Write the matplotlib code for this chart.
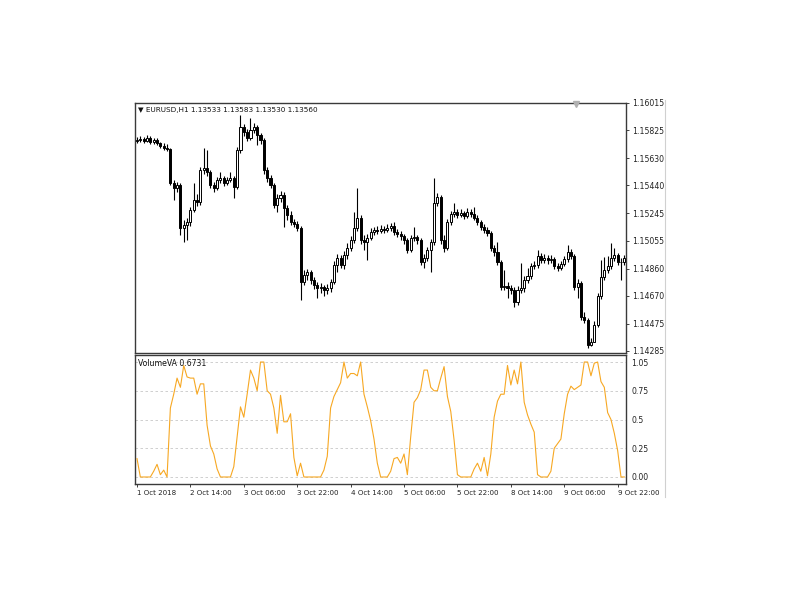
import numpy as np
import matplotlib
matplotlib.use("Agg")
import matplotlib.pyplot as plt
from matplotlib.lines import Line2D

# hourly EURUSD bars, 1 Oct 22:00 .. 10 Oct 00:00
opens = [1.15750, 1.15757, 1.15764, 1.15750, 1.15771, 1.15743, 1.15757, 1.15736, 1.15715, 1.15701,
         1.15694, 1.15457, 1.15422, 1.15443, 1.15143, 1.15164, 1.15185, 1.15269, 1.15338, 1.15324,
         1.15548, 1.15561, 1.15534, 1.15443, 1.15422, 1.15478, 1.15492, 1.15457, 1.15478, 1.15492,
         1.15429, 1.15687, 1.15848, 1.15813, 1.15771, 1.15827, 1.15848, 1.15792, 1.15757, 1.15548,
         1.15492, 1.15443, 1.15303, 1.15352, 1.15373, 1.15282, 1.15234, 1.15185, 1.15171, 1.15143,
         1.14766, 1.14815, 1.14836, 1.14780, 1.14745, 1.14724, 1.14731, 1.14711, 1.14724, 1.14766,
         1.14885, 1.14934, 1.14885, 1.14955, 1.15003, 1.15059, 1.15143, 1.15213, 1.15059, 1.15045,
         1.15073, 1.15115, 1.15129, 1.15122, 1.15136, 1.15129, 1.15143, 1.15157, 1.15115, 1.15101,
         1.15087, 1.15059, 1.14990, 1.15073, 1.15080, 1.15059, 1.14906, 1.14934, 1.14990, 1.15045,
         1.15317, 1.15359, 1.15059, 1.15003, 1.15185, 1.15241, 1.15255, 1.15234, 1.15248, 1.15227,
         1.15255, 1.15241, 1.15213, 1.15185, 1.15150, 1.15129, 1.15108, 1.15003, 1.14976, 1.14906,
         1.14731, 1.14738, 1.14724, 1.14711, 1.14627, 1.14711, 1.14724, 1.14780, 1.14808, 1.14878,
         1.14885, 1.14948, 1.14920, 1.14934, 1.14920, 1.14927, 1.14878, 1.14864, 1.14892, 1.14927,
         1.14976, 1.14948, 1.14731, 1.14759, 1.14522, 1.14501, 1.14327, 1.14348, 1.14466, 1.14669,
         1.14801, 1.14850, 1.14878, 1.14934, 1.14955, 1.14906, 1.14906]
closes = [1.15757, 1.15764, 1.15750, 1.15771, 1.15743, 1.15757, 1.15736, 1.15715, 1.15701, 1.15694,
          1.15457, 1.15422, 1.15443, 1.15143, 1.15164, 1.15185, 1.15269, 1.15338, 1.15324, 1.15548,
          1.15561, 1.15534, 1.15443, 1.15422, 1.15478, 1.15492, 1.15457, 1.15478, 1.15492, 1.15429,
          1.15687, 1.15848, 1.15813, 1.15771, 1.15827, 1.15848, 1.15792, 1.15757, 1.15548, 1.15492,
          1.15443, 1.15303, 1.15352, 1.15373, 1.15282, 1.15234, 1.15185, 1.15171, 1.15143, 1.14766,
          1.14815, 1.14836, 1.14780, 1.14745, 1.14724, 1.14731, 1.14711, 1.14724, 1.14766, 1.14885,
          1.14934, 1.14885, 1.14955, 1.15003, 1.15059, 1.15143, 1.15213, 1.15059, 1.15045, 1.15073,
          1.15115, 1.15129, 1.15122, 1.15136, 1.15129, 1.15143, 1.15157, 1.15115, 1.15101, 1.15087,
          1.15059, 1.14990, 1.15073, 1.15080, 1.15059, 1.14906, 1.14934, 1.14990, 1.15045, 1.15317,
          1.15359, 1.15059, 1.15003, 1.15185, 1.15241, 1.15255, 1.15234, 1.15248, 1.15227, 1.15255,
          1.15241, 1.15213, 1.15185, 1.15150, 1.15129, 1.15108, 1.15003, 1.14976, 1.14906, 1.14731,
          1.14738, 1.14724, 1.14711, 1.14627, 1.14711, 1.14724, 1.14780, 1.14808, 1.14878, 1.14885,
          1.14948, 1.14920, 1.14934, 1.14920, 1.14927, 1.14878, 1.14864, 1.14892, 1.14927, 1.14976,
          1.14948, 1.14731, 1.14759, 1.14522, 1.14501, 1.14327, 1.14348, 1.14466, 1.14669, 1.14801,
          1.14850, 1.14878, 1.14934, 1.14955, 1.14906, 1.14906, 1.14934]
highs = [1.15778, 1.15785, 1.15778, 1.15792, 1.15785, 1.15771, 1.15771, 1.15743, 1.15736, 1.15729,
         1.15701, 1.15478, 1.15464, 1.15457, 1.15199, 1.15213, 1.15290, 1.15457, 1.15380, 1.15569,
         1.15701, 1.15687, 1.15548, 1.15464, 1.15499, 1.15534, 1.15506, 1.15499, 1.15534, 1.15506,
         1.15708, 1.15931, 1.15869, 1.15834, 1.15910, 1.15876, 1.15862, 1.15806, 1.15771, 1.15569,
         1.15513, 1.15457, 1.15380, 1.15401, 1.15394, 1.15303, 1.15262, 1.15206, 1.15192, 1.15157,
         1.14850, 1.14857, 1.14850, 1.14801, 1.14766, 1.14759, 1.14745, 1.14752, 1.14787, 1.14913,
         1.14962, 1.14955, 1.14983, 1.15038, 1.15087, 1.15255, 1.15422, 1.15234, 1.15094, 1.15101,
         1.15143, 1.15150, 1.15157, 1.15164, 1.15157, 1.15171, 1.15178, 1.15185, 1.15136, 1.15122,
         1.15101, 1.15073, 1.15094, 1.15150, 1.15094, 1.15073, 1.14962, 1.15010, 1.15066, 1.15492,
         1.15387, 1.15373, 1.15094, 1.15206, 1.15262, 1.15317, 1.15276, 1.15276, 1.15262, 1.15283,
         1.15276, 1.15290, 1.15234, 1.15199, 1.15171, 1.15150, 1.15122, 1.15024, 1.15045, 1.14920,
         1.14850, 1.14766, 1.14745, 1.14731, 1.14738, 1.14899, 1.14808, 1.14864, 1.14899, 1.14913,
         1.14990, 1.14969, 1.14962, 1.14955, 1.14955, 1.14941, 1.14899, 1.14913, 1.14948, 1.15024,
         1.14997, 1.14962, 1.14787, 1.14773, 1.14557, 1.14515, 1.14376, 1.14494, 1.14690, 1.14920,
         1.14941, 1.14948, 1.15038, 1.15003, 1.14969, 1.14934, 1.14955]
lows = [1.15736, 1.15743, 1.15736, 1.15743, 1.15729, 1.15729, 1.15722, 1.15701, 1.15687, 1.15680,
        1.15443, 1.15338, 1.15394, 1.15094, 1.15045, 1.15059, 1.15157, 1.15255, 1.15296, 1.15303,
        1.15520, 1.15506, 1.15422, 1.15394, 1.15408, 1.15457, 1.15436, 1.15443, 1.15464, 1.15352,
        1.15415, 1.15666, 1.15785, 1.15750, 1.15757, 1.15806, 1.15722, 1.15729, 1.15520, 1.15464,
        1.15422, 1.15282, 1.15255, 1.15324, 1.15150, 1.15199, 1.15164, 1.15150, 1.15122, 1.14641,
        1.14745, 1.14780, 1.14752, 1.14717, 1.14655, 1.14690, 1.14669, 1.14683, 1.14697, 1.14752,
        1.14836, 1.14864, 1.14857, 1.14927, 1.14983, 1.15038, 1.15122, 1.15031, 1.14990, 1.14920,
        1.15059, 1.15094, 1.15101, 1.15108, 1.15108, 1.15115, 1.15122, 1.15094, 1.15080, 1.15059,
        1.15031, 1.14969, 1.14976, 1.15052, 1.15031, 1.14885, 1.14864, 1.14913, 1.14836, 1.15024,
        1.15296, 1.15031, 1.14976, 1.14990, 1.15164, 1.15220, 1.15213, 1.15220, 1.15206, 1.15213,
        1.15220, 1.15199, 1.15164, 1.15129, 1.15108, 1.15087, 1.14983, 1.14948, 1.14885, 1.14710,
        1.14710, 1.14655, 1.14683, 1.14592, 1.14606, 1.14690, 1.14697, 1.14759, 1.14787, 1.14857,
        1.14864, 1.14899, 1.14899, 1.14892, 1.14899, 1.14857, 1.14843, 1.14850, 1.14878, 1.14906,
        1.14927, 1.14710, 1.14655, 1.14501, 1.14480, 1.14306, 1.14320, 1.14348, 1.14452, 1.14648,
        1.14780, 1.14829, 1.14857, 1.14913, 1.14885, 1.14780, 1.14885]

volume_va = [0.16, 0, 0, 0, 0, 0.05, 0.11, 0.02, 0.06, 0,
             0.60, 0.72, 0.86, 0.78, 0.97, 0.87, 0.86, 0.86, 0.72, 0.81,
             0.81, 0.45, 0.27, 0.20, 0.07, 0, 0, 0, 0, 0.09,
             0.35, 0.61, 0.52, 0.72, 0.93, 0.86, 0.75, 1.0, 1.0, 0.75,
             0.72, 0.60, 0.38, 0.71, 0.48, 0.48, 0.55, 0.17, 0.01, 0.12,
             0, 0, 0, 0, 0, 0, 0.06, 0.18, 0.60, 0.70,
             0.76, 0.82, 1.0, 0.86, 0.90, 0.90, 0.88, 1.0, 0.72, 0.61,
             0.49, 0.33, 0.12, 0, 0, 0, 0.05, 0.16, 0.17, 0.12,
             0.20, 0.02, 0.35, 0.65, 0.69, 0.76, 0.93, 0.93, 0.78, 0.75,
             0.75, 0.86, 0.96, 0.70, 0.57, 0.32, 0.02, 0, 0, 0,
             0, 0.07, 0.12, 0.05, 0.17, 0.01, 0.20, 0.52, 0.66, 0.72,
             0.72, 0.97, 0.80, 0.93, 0.81, 1.0, 0.65, 0.54, 0.46, 0.39,
             0.02, 0, 0, 0, 0.05, 0.25, 0.29, 0.33, 0.55, 0.72,
             0.79, 0.76, 0.78, 0.80, 1.0, 1.0, 0.88, 0.99, 1.0, 0.83,
             0.78, 0.56, 0.50, 0.38, 0.23, 0, 0]

price_ticks = [1.16015, 1.15825, 1.15630, 1.15440, 1.15245, 1.15055, 1.14860, 1.14670, 1.14475, 1.14285]
time_tick_bars = [0, 16, 32, 48, 64, 80, 96, 112, 128, 144]
time_tick_labels = ['1 Oct 2018', '2 Oct 14:00', '3 Oct 06:00', '3 Oct 22:00', '4 Oct 14:00',
                    '5 Oct 06:00', '5 Oct 22:00', '8 Oct 14:00', '9 Oct 06:00', '9 Oct 22:00']
va_levels = [0, 0.25, 0.5, 0.75, 1.0]
va_labels = ['0.00', '0.25', '0.5', '0.75', '1.05']

plt.rcParams['font.family'] = ['DejaVu Sans']
fs = 5.6
frame = '#3a3a3a'

o = np.array(opens)
c = np.array(closes)
h = np.array(highs)
l = np.array(lows)
x = np.arange(len(c))

fig = plt.figure(figsize=(8, 6), dpi=100)
ax = fig.add_axes([135/800, 1 - 353/600, 491/800, 250/600])
ax2 = fig.add_axes([135/800, 1 - 484/600, 491/800, 129/600], sharex=ax)

# candles
up = c >= o
ax.vlines(x, l, h, color='black', linewidth=0.8, zorder=2)
body = np.maximum(np.abs(c - o), 0.000025)
ax.bar(x[up], body[up], bottom=o[up], width=0.62, color='white', edgecolor='black',
       linewidth=0.7, zorder=3)
ax.bar(x[~up], body[~up], bottom=c[~up], width=0.62, color='black', edgecolor='black',
       linewidth=0.7, zorder=3)

ax.set_xlim(-0.6, 146.5)
ax.set_ylim(1.14271, 1.16015)
ax.yaxis.tick_right()
ax.set_yticks(price_ticks)
ax.set_yticklabels(['%.5f' % p for p in price_ticks])
ax.tick_params(axis='y', labelsize=fs, length=2.5, width=0.6, pad=2, colors='#222222')
ax.tick_params(axis='x', bottom=False, labelbottom=False)
for s in ax.spines.values():
    s.set_color(frame)
    s.set_linewidth(1.0)

ax.text(0.006, 0.985, '\u25BC EURUSD,H1 1.13533 1.13583 1.13530 1.13560', transform=ax.transAxes,
        fontsize=5.2, va='top', ha='left', color='#111111')
# small grey marker at the top
ax.plot([131.5], [1.16005], marker='v', color='#b0b0b0', markersize=5, clip_on=False, zorder=4)

# indicator
ax2.plot(x, volume_va, color='#f7a823', linewidth=0.8, zorder=3)
for lv in va_levels:
    ax2.axhline(lv, color='#c8c8c8', linewidth=0.6, linestyle=(0, (3, 3)), zorder=1)
ax2.set_ylim(-0.061, 1.061)
ax2.yaxis.tick_right()
ax2.set_yticks(va_levels)
ax2.set_yticklabels(va_labels)
ax2.tick_params(axis='y', labelsize=fs, length=0, pad=4, colors='#222222')
ax2.set_xticks(time_tick_bars)
ax2.set_xticklabels(time_tick_labels, ha='left')
ax2.tick_params(axis='x', labelsize=5.1, length=2.5, width=0.6, pad=2, colors='#222222')
for s in ax2.spines.values():
    s.set_color(frame)
    s.set_linewidth(1.0)
ax2.text(0.006, 0.97, 'VolumeVA 0.6731', transform=ax2.transAxes, fontsize=fs,
         va='top', ha='left', color='#111111')

# outer window edge on the right
fig.add_artist(Line2D([665/800, 665/800], [1 - 100/600, 1 - 497/600], color='#d0d0d0', linewidth=0.8))

fig.savefig('out.png', dpi=100)
